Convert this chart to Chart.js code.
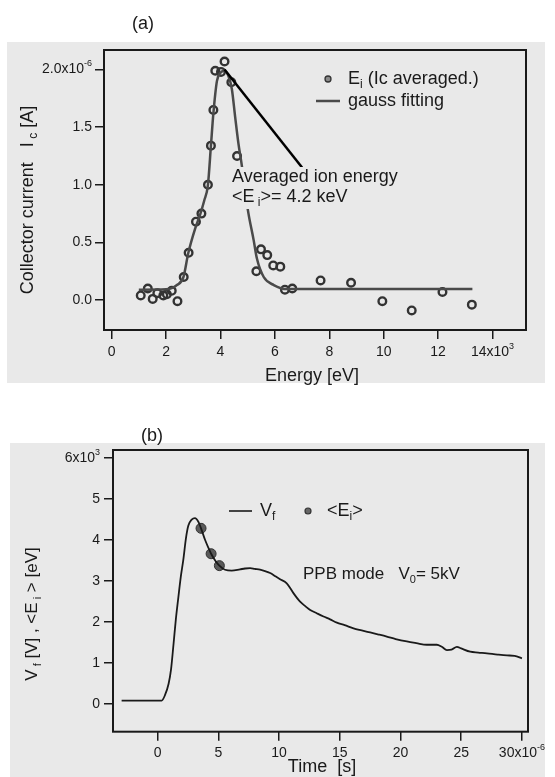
<!DOCTYPE html>
<html>
<head>
<meta charset="utf-8">
<script src="https://cdn.jsdelivr.net/npm/chart.js@4.4.1/dist/chart.umd.min.js"></script>
<style>
  body { margin: 0; background: #fff; }
  #wrap { position: relative; width: 555px; height: 777px; }
  canvas { position: absolute; left: 0; }
</style>
</head>
<body>
<div id="wrap">
  <canvas id="chartA" width="555" height="390" style="top:0"></canvas>
  <canvas id="chartB" width="555" height="387" style="top:390px"></canvas>
</div>
<script>
// (a) collector current vs energy  (energy in eV, current in 1e-6 A)
const energy = [1070, 1330, 1510, 1680, 1900, 2030, 2210, 2420, 2650, 2830, 3100, 3300, 3540, 3650, 3740, 3810,
  4020, 4150, 4400, 4610, 5320, 5490, 5720, 5940, 6200, 6370, 6640, 7680, 8800, 9950, 11030, 12160, 13240]
const current = [0.04, 0.10, 0.01, 0.06, 0.04, 0.05, 0.08, -0.01, 0.20, 0.41, 0.68, 0.75, 1.00, 1.34, 1.65, 1.99,
  1.98, 2.07, 1.89, 1.25, 0.25, 0.44, 0.39, 0.30, 0.29, 0.09, 0.10, 0.17, 0.15, -0.01, -0.09, 0.07, -0.04]
const fitEnergy = [1000, 2000, 2400, 2640, 2820, 3070, 3250, 3400, 3540, 3650, 3740, 3870, 3990, 4140, 4300, 4420,
  4540, 4660, 4790, 4900, 5030, 5220, 5340, 5590, 5960, 6450, 13260]
const fitCurrent = [0.09, 0.093, 0.13, 0.20, 0.41, 0.62, 0.74, 0.86, 1.00, 1.34, 1.62, 1.90, 1.97, 1.99, 1.94, 1.83,
  1.59, 1.36, 1.16, 0.95, 0.75, 0.52, 0.36, 0.20, 0.13, 0.095, 0.095]
const energyTicks = [0, 2000, 4000, 6000, 8000, 10000, 12000, 14000]
const currentTicks = [0, 0.5, 1.0, 1.5, 2.0]
const arrowFrom = [4150, 2.0]
const arrowTo = [7000, 1.15]

// (b) floating potential vs time  (time in 1e-6 s, voltage in 1e3 V)
const time = [-2.97, 0.33, 0.6, 0.9, 1.1, 1.3, 1.5, 1.7, 1.9, 2.11, 2.33, 2.52, 2.8, 3.07, 3.35, 3.57, 3.9, 4.2, 4.4,
  4.75, 5.08, 5.55, 6.1, 6.78, 7.2, 7.61, 8.0, 8.43, 8.9, 9.26, 9.7, 10.08, 10.63, 11.18, 11.73, 12.2, 12.56, 13.1,
  13.66, 14.2, 14.76, 15.4, 16.13, 16.8, 17.5, 18.2, 18.87, 19.6, 20.52, 21.3, 22.17, 22.99, 23.4, 23.82, 24.2,
  24.64, 25.0, 25.74, 26.4, 27.12, 28.0, 28.77, 29.4, 30.0]
const vf = [0.09, 0.09, 0.22, 0.5, 0.85, 1.45, 2.08, 2.6, 3.1, 3.52, 4.05, 4.35, 4.50, 4.54, 4.45, 4.29, 4.01, 3.8,
  3.67, 3.5, 3.38, 3.28, 3.26, 3.29, 3.31, 3.32, 3.30, 3.28, 3.24, 3.20, 3.12, 3.05, 2.95, 2.71, 2.50, 2.38, 2.30,
  2.22, 2.14, 2.07, 1.99, 1.93, 1.85, 1.80, 1.75, 1.70, 1.65, 1.59, 1.53, 1.49, 1.45, 1.45, 1.40, 1.32, 1.33, 1.40,
  1.36, 1.28, 1.26, 1.24, 1.21, 1.19, 1.18, 1.12]
const eiTime = [3.57, 4.40, 5.08]
const eiValue = [4.29, 3.67, 3.38]
const timeTicks = [0, 5, 10, 15, 20, 25, 30]
const voltTicks = [0, 1, 2, 3, 4, 5, 6]

const FONT = '"Liberation Sans", Arial, Helvetica, sans-serif'
const BG = '#e9e9e9'
const INK = '#1a1a1a'

function rich(ctx, segs, x, y, size, align) {
  const parts = segs.map(s => {
    const p = typeof s === 'string' ? { t: s } : s
    const fs = p.sub || p.sup ? Math.round(size * 0.64) : size
    ctx.font = fs + 'px ' + FONT
    return { ...p, fs, w: ctx.measureText(p.t).width }
  })
  const total = parts.reduce((a, p) => a + p.w, 0)
  let cx = align === 'center' ? x - total / 2 : align === 'right' ? x - total : x
  ctx.textBaseline = 'middle'
  ctx.textAlign = 'left'
  ctx.fillStyle = INK
  for (const p of parts) {
    ctx.font = p.fs + 'px ' + FONT
    const dy = p.sub ? size * 0.34 : p.sup ? -size * 0.4 : 0
    ctx.fillText(p.t, cx, y + dy)
    cx += p.w
  }
  return total
}

function rotated(ctx, segs, cx, cy, size) {
  ctx.save()
  ctx.translate(cx, cy)
  ctx.rotate(-Math.PI / 2)
  rich(ctx, segs, 0, 0, size, 'center')
  ctx.restore()
}

function tickLabels(chart, axis, fmt, off) {
  const s = chart.scales[axis], a = chart.chartArea
  s.ticks.forEach(t => {
    const p = s.getPixelForValue(t.value)
    if (axis === 'x') rich(chart.ctx, fmt(t.value), p, a.bottom + off, 14, 'center')
    else rich(chart.ctx, fmt(t.value), a.left - off, p, 14, 'right')
  })
}

function frame(chart) {
  const ctx = chart.ctx, a = chart.chartArea
  ctx.save()
  ctx.strokeStyle = INK
  ctx.lineWidth = 2
  ctx.strokeRect(a.left, a.top, a.right - a.left, a.bottom - a.top)
  ctx.restore()
}

function axisOpts(min, max, tickVals, fit) {
  return {
    type: 'linear', min, max,
    afterBuildTicks: s => { s.ticks = tickVals.map(v => ({ value: v })) },
    afterFit: fit,
    ticks: { display: false },
    border: { display: false },
    grid: { drawOnChartArea: false, drawTicks: true, tickLength: 9, color: INK, lineWidth: 1.5 }
  }
}

const paperA = {
  id: 'paperA',
  beforeDraw(chart) {
    const ctx = chart.ctx
    ctx.save()
    ctx.fillStyle = '#fff'
    ctx.fillRect(0, 0, chart.width, chart.height)
    ctx.fillStyle = BG
    ctx.fillRect(7, 42, 538, 341)
    ctx.restore()
  },
  afterDraw(chart) {
    const ctx = chart.ctx, x = chart.scales.x, y = chart.scales.y
    frame(chart)
    tickLabels(chart, 'y', v => v === 2 ? ['2.0x10', { t: '-6', sup: true }] : [v.toFixed(1)], 12)
    tickLabels(chart, 'x', v => v === 14000 ? ['14x10', { t: '3', sup: true }] : [String(v / 1000)], 22)
    rich(ctx, ['(a)'], 143, 24, 18, 'center')
    rich(ctx, ['Energy [eV]'], 312, 376, 18, 'center')
    rotated(ctx, ['Collector current   I', { t: ' c', sub: true }, ' [A]'], 28, 200, 18)

    // annotation
    ctx.save()
    ctx.strokeStyle = '#000'
    ctx.lineWidth = 2.5
    ctx.beginPath()
    ctx.moveTo(x.getPixelForValue(arrowFrom[0]), y.getPixelForValue(arrowFrom[1]))
    ctx.lineTo(x.getPixelForValue(arrowTo[0]), y.getPixelForValue(arrowTo[1]))
    ctx.stroke()
    ctx.fillStyle = BG
    ctx.fillRect(229, 167, 180, 42)
    ctx.restore()
    rich(ctx, ['Averaged ion energy'], 232, 177, 18, 'left')
    rich(ctx, ['<E', { t: ' i', sub: true }, '>= 4.2 keV'], 232, 197, 18, 'left')

    // legend
    ctx.save()
    ctx.fillStyle = '#8a8a8a'
    ctx.strokeStyle = '#333'
    ctx.lineWidth = 1.3
    ctx.beginPath()
    ctx.arc(328, 79, 3, 0, Math.PI * 2)
    ctx.fill()
    ctx.stroke()
    ctx.strokeStyle = '#4a4a4a'
    ctx.lineWidth = 2.5
    ctx.beginPath()
    ctx.moveTo(316, 101)
    ctx.lineTo(340, 101)
    ctx.stroke()
    ctx.restore()
    rich(ctx, ['E', { t: 'i', sub: true }, ' (Ic averaged.)'], 348, 79, 18, 'left')
    rich(ctx, ['gauss fitting'], 348, 101, 18, 'left')
  }
}

const paperB = {
  id: 'paperB',
  beforeDraw(chart) {
    const ctx = chart.ctx
    ctx.save()
    ctx.fillStyle = '#fff'
    ctx.fillRect(0, 0, chart.width, chart.height)
    ctx.fillStyle = BG
    ctx.fillRect(10, 53, 535, 334)
    ctx.restore()
  },
  afterDraw(chart) {
    const ctx = chart.ctx
    frame(chart)
    tickLabels(chart, 'y', v => v === 6 ? ['6x10', { t: '3', sup: true }] : [String(v)], 13)
    tickLabels(chart, 'x', v => v === 30 ? ['30x10', { t: '-6', sup: true }] : [String(v)], 21)
    rich(ctx, ['(b)'], 152, 46, 18, 'center')
    rich(ctx, ['Time  [s]'], 322, 377, 18, 'center')
    rotated(ctx, ['V', { t: ' f', sub: true }, ' [V] , <E', { t: ' i', sub: true }, ' > [eV]'], 32, 224, 17)

    ctx.save()
    ctx.strokeStyle = INK
    ctx.lineWidth = 1.6
    ctx.beginPath()
    ctx.moveTo(229, 121)
    ctx.lineTo(252, 121)
    ctx.stroke()
    ctx.fillStyle = '#666'
    ctx.strokeStyle = '#333'
    ctx.lineWidth = 1.2
    ctx.beginPath()
    ctx.arc(308, 121, 3, 0, Math.PI * 2)
    ctx.fill()
    ctx.stroke()
    ctx.restore()
    rich(ctx, ['V', { t: 'f', sub: true }], 260, 121, 18, 'left')
    rich(ctx, ['<E', { t: 'i', sub: true }, '>'], 327, 121, 18, 'left')
    rich(ctx, ['PPB mode   V', { t: '0', sub: true }, '= 5kV'], 303, 184, 17, 'left')
  }
}

new Chart(document.getElementById('chartA'), {
  type: 'scatter',
  data: {
    datasets: [
      {
        label: 'gauss fitting', type: 'line',
        data: fitEnergy.map((e, i) => ({ x: e, y: fitCurrent[i] })),
        borderColor: '#4a4a4a', borderWidth: 2.5, pointRadius: 0,
        cubicInterpolationMode: 'monotone', fill: false
      },
      {
        label: 'Ei (Ic averaged.)',
        data: energy.map((e, i) => ({ x: e, y: current[i] })),
        pointRadius: 3.8, borderWidth: 2.4, borderColor: '#333', backgroundColor: 'rgba(0,0,0,0)'
      }
    ]
  },
  options: {
    responsive: false, animation: false, events: [],
    layout: { padding: { left: 0, top: 50, right: 29, bottom: 0 } },
    plugins: { legend: { display: false }, tooltip: { enabled: false } },
    scales: {
      x: axisOpts(-280, 15230, energyTicks, s => { s.height = 60 }),
      y: axisOpts(-0.26, 2.17, currentTicks, s => { s.width = 104 })
    }
  },
  plugins: [paperA]
})

new Chart(document.getElementById('chartB'), {
  type: 'scatter',
  data: {
    datasets: [
      {
        label: 'Vf', type: 'line',
        data: time.map((t, i) => ({ x: t, y: vf[i] })),
        borderColor: INK, borderWidth: 1.8, pointRadius: 0, cubicInterpolationMode: 'monotone', fill: false
      },
      {
        label: '<Ei>',
        data: eiTime.map((t, i) => ({ x: t, y: eiValue[i] })),
        pointRadius: 5, borderWidth: 1, borderColor: '#333', backgroundColor: '#5a5a5a'
      }
    ]
  },
  options: {
    responsive: false, animation: false, events: [],
    layout: { padding: { left: 0, top: 60, right: 27, bottom: 0 } },
    plugins: { legend: { display: false }, tooltip: { enabled: false } },
    scales: {
      x: axisOpts(-3.68, 30.5, timeTicks, s => { s.height = 45.3 }),
      y: axisOpts(-0.67, 6.2, voltTicks, s => { s.width = 113 })
    }
  },
  plugins: [paperB]
})
</script>
</body>
</html>
